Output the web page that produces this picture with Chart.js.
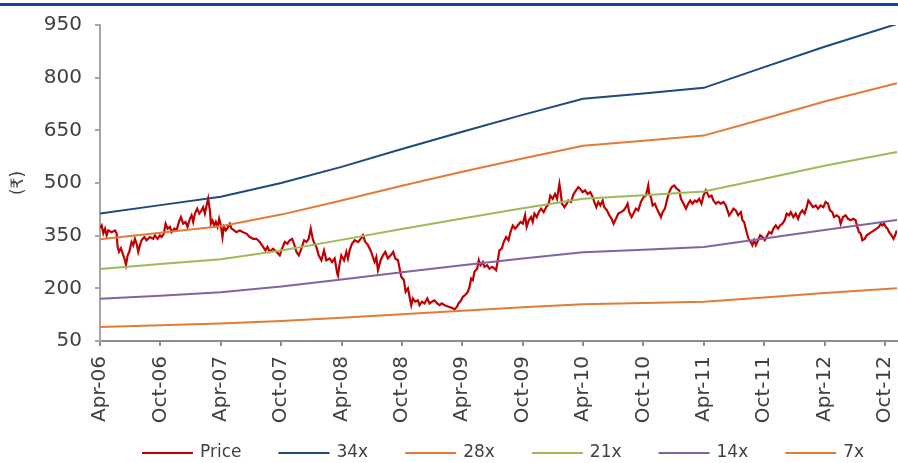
<!DOCTYPE html>
<html>
<head>
<meta charset="utf-8">
<script src="https://cdn.jsdelivr.net/npm/chart.js@4.4.1/dist/chart.umd.min.js"></script>
<style>
  body { margin: 0; background: #fff; }
  #wrap { position: relative; width: 898px; height: 463px; }
  #topRule { position: absolute; left: 0; top: 3px; width: 898px; height: 3px; background: #0a47a0; }
  canvas { position: absolute; left: 0; top: 0; }
</style>
</head>
<body>
<div id="wrap">
  <canvas id="peBandChart" width="898" height="463"></canvas>
  <div id="topRule"></div>
</div>
<script>
// x values are months counted from Apr-06
const tickLabels = ['Apr-06', 'Oct-06', 'Apr-07', 'Oct-07', 'Apr-08', 'Oct-08', 'Apr-09',
  'Oct-09', 'Apr-10', 'Oct-10', 'Apr-11', 'Oct-11', 'Apr-12', 'Oct-12'];

const priceMonths = [
  0.00, 0.17, 0.33, 0.50, 0.66, 0.83, 1.16, 1.49, 1.65, 1.75, 1.89, 2.08, 2.32, 2.48, 2.58, 2.75, 2.91,
  3.14, 3.31, 3.47, 3.64, 3.80, 3.97, 4.13, 4.40, 4.63, 4.96, 5.29, 5.46, 5.72, 5.95, 6.12, 6.35, 6.52,
  6.72, 6.95, 7.11, 7.38, 7.61, 7.84, 8.04, 8.27, 8.50, 8.70, 8.93, 9.10, 9.26, 9.43, 9.66, 9.86, 10.09,
  10.25, 10.42, 10.59, 10.75, 10.92, 11.02, 11.18, 11.35, 11.51, 11.68, 11.84, 12.01, 12.17, 12.31,
  12.50, 12.74, 12.90, 13.07, 13.33, 13.56, 13.89, 14.22, 14.55, 14.89, 15.22, 15.55, 15.88, 16.21,
  16.44, 16.64, 16.87, 17.20, 17.53, 17.86, 18.09, 18.36, 18.62, 18.86, 19.09, 19.28, 19.52, 19.75,
  20.01, 20.28, 20.51, 20.74, 20.94, 21.17, 21.50, 21.73, 22.00, 22.26, 22.49, 22.82, 23.06, 23.32,
  23.58, 23.65, 23.82, 23.98, 24.25, 24.48, 24.64, 24.81, 25.04, 25.31, 25.64, 25.90, 26.13, 26.36,
  26.63, 26.89, 27.12, 27.29, 27.46, 27.62, 27.89, 28.12, 28.35, 28.61, 28.88, 29.14, 29.34, 29.61,
  29.80, 29.94, 30.20, 30.37, 30.60, 30.76, 30.93, 31.09, 31.33, 31.59, 31.76, 31.99, 32.25, 32.52,
  32.75, 32.98, 33.24, 33.51, 33.74, 33.97, 34.24, 34.50, 34.73, 35.06, 35.23, 35.46, 35.63, 35.89,
  36.06, 36.29, 36.55, 36.72, 36.88, 37.05, 37.21, 37.48, 37.64, 37.81, 38.04, 38.21, 38.47, 38.70,
  38.97, 39.20, 39.36, 39.53, 39.69, 39.93, 40.12, 40.36, 40.59, 40.79, 41.02, 41.25, 41.51, 41.78,
  42.01, 42.24, 42.40, 42.60, 42.84, 43.00, 43.17, 43.40, 43.60, 43.83, 44.09, 44.33, 44.59, 44.75,
  44.99, 45.22, 45.42, 45.65, 45.75, 45.91, 46.15, 46.38, 46.54, 46.81, 47.07, 47.30, 47.53, 47.73,
  47.96, 48.20, 48.46, 48.72, 48.96, 49.12, 49.32, 49.52, 49.72, 49.95, 50.11, 50.38, 50.61, 50.84,
  51.04, 51.27, 51.50, 51.77, 52.03, 52.26, 52.43, 52.59, 52.82, 53.02, 53.25, 53.49, 53.75, 54.02,
  54.25, 54.48, 54.58, 54.75, 54.91, 55.14, 55.34, 55.57, 55.74, 55.91, 56.14, 56.33, 56.56, 56.80,
  57.06, 57.33, 57.56, 57.73, 57.99, 58.23, 58.45, 58.65, 58.88, 59.11, 59.31, 59.54, 59.77, 59.97,
  60.20, 60.37, 60.53, 60.77, 60.96, 61.20, 61.43, 61.69, 61.96, 62.19, 62.35, 62.52, 62.75, 62.95,
  63.18, 63.41, 63.68, 63.84, 64.01, 64.17, 64.34, 64.50, 64.67, 64.83, 65.00, 65.17, 65.40, 65.60,
  65.83, 66.06, 66.32, 66.49, 66.72, 66.92, 67.15, 67.38, 67.58, 67.81, 68.04, 68.24, 68.47, 68.64,
  68.90, 69.13, 69.37, 69.56, 69.79, 70.02, 70.22, 70.39, 70.62, 70.85, 71.12, 71.35, 71.61, 71.88,
  72.11, 72.34, 72.54, 72.77, 72.94, 73.20, 73.44, 73.60, 73.83, 74.10, 74.33, 74.59, 74.86, 75.09,
  75.25, 75.42, 75.59, 75.75, 75.99, 76.19, 76.42, 76.65, 76.92, 77.18, 77.41, 77.58, 77.75, 77.91,
  78.08, 78.25, 78.42, 78.65, 78.85, 79.01, 79.18
];

const priceValues = [
  372, 379, 357, 370, 351, 365, 360, 365, 357, 318, 304, 314, 294, 280, 266, 294, 304,
  332, 323, 341, 327, 304, 323, 337, 346, 337, 346, 341, 351, 341, 351, 346, 356, 384,
  370, 375, 360, 370, 365, 389, 403, 384, 389, 375, 398, 408, 389, 413, 427, 413, 422,
  431, 413, 436, 456, 422, 384, 393, 379, 389, 375, 398, 379, 346, 375,
  365, 375, 384, 370, 365, 360, 365, 360, 356, 346, 341, 341, 332, 318,
  308, 318, 304, 313, 304, 294, 313, 332, 327, 337, 341, 327, 304, 294,
  313, 337, 332, 341, 370, 337, 318, 294, 280, 308, 280, 285, 275, 285,
  242, 237, 271, 294, 280, 304, 285, 308, 327, 337, 332, 341, 351, 332,
  323, 308, 289, 275, 289, 252, 280, 294, 304, 285, 294, 304, 285, 280,
  252, 233, 223, 190, 200, 176, 152, 171, 162, 166, 152, 162, 157, 171,
  157, 162, 166, 157, 152, 157, 152, 149, 147, 143, 140, 147, 157, 166,
  176, 181, 190, 204, 228, 223, 247, 256, 280, 266, 275, 261, 266, 256,
  261, 256, 252, 280, 308, 313, 332, 346, 337, 360, 379, 370, 379, 389,
  384, 408, 375, 393, 403, 389, 413, 403, 417, 427, 417, 431, 441, 464,
  455, 469, 455, 498, 479, 441, 431, 441, 450, 446, 469, 479, 488, 483,
  474, 479, 469, 474, 460, 446, 431, 446, 436, 450, 431, 422, 408, 398,
  384, 398, 413, 417, 422, 431, 441, 417, 403, 413, 427, 422, 446, 460,
  464, 493, 469, 460, 436, 441, 427, 413, 403, 417, 427, 450, 474, 488,
  493, 483, 479, 455, 441, 427, 441, 450, 441, 450, 446, 455, 441, 464,
  479, 469, 460, 464, 450, 441, 446, 441, 446, 436, 422, 408, 417, 427,
  422, 408, 417, 394, 389, 370, 351, 337, 332, 323, 337, 323, 337, 351,
  346, 337, 351, 360, 356, 370, 379, 370, 379, 384, 394, 413, 408, 417,
  403, 413, 398, 413, 422, 413, 431, 450, 441, 431, 436, 427, 436, 431,
  446, 441, 422, 417, 403, 408, 403, 384, 403, 408, 398, 394, 398, 394,
  375, 360, 356, 337, 341, 351, 356, 360, 365, 370, 375, 384, 379, 384,
  375, 370, 360, 351, 341, 351, 365
];

// PE band values at each half-year point, last one is the end of the series
const bandMonths = [0, 6, 12, 18, 24, 30, 36, 42, 48, 54, 60, 66, 72, 79.2];
const band34x = [413, 437, 461, 500, 546, 597, 646, 694, 740, 755, 771, 830, 888, 953];
const band28x = [340, 358, 377, 410, 450, 492, 532, 570, 606, 620, 635, 683, 732, 784];
const band21x = [255, 269, 283, 308, 338, 369, 399, 428, 455, 465, 476, 512, 549, 588];
const band14x = [170, 179, 189, 205, 225, 246, 266, 285, 303, 310, 318, 342, 366, 395];
const band7x = [90, 95, 100, 107, 116, 126, 136, 146, 155, 158, 162, 174, 187, 200];

const textColor = '#404040';
const fontFamily = '"DejaVu Sans", "Noto Sans", sans-serif';

function pairs(xs, ys) {
  return ys.map((y, i) => ({ x: xs[i], y: y }));
}

function bandSet(label, values, color, width) {
  return {
    label: label,
    data: pairs(bandMonths, values),
    borderColor: color,
    borderWidth: width,
    pointRadius: 0,
    order: 0
  };
}

// legend drawn as one row under the axis labels
const legendRow = {
  id: 'legendRow',
  afterDraw(chart) {
    const ctx = chart.ctx;
    const y = 453;
    let x = chart.chartArea.left + 42;
    ctx.save();
    ctx.font = '17px ' + fontFamily;
    ctx.textBaseline = 'middle';
    chart.data.datasets.forEach((ds) => {
      ctx.strokeStyle = ds.borderColor;
      ctx.lineWidth = 2;
      ctx.beginPath();
      ctx.moveTo(x, y);
      ctx.lineTo(x + 51, y);
      ctx.stroke();
      ctx.fillStyle = textColor;
      ctx.fillText(ds.label, x + 58, y);
      x += 58 + ctx.measureText(ds.label).width + 37;
    });
    ctx.restore();
  }
};

const canvas = document.getElementById('peBandChart');
new Chart(canvas, {
  type: 'line',
  data: {
    datasets: [
      {
        label: 'Price',
        data: pairs(priceMonths, priceValues),
        borderColor: '#c00000',
        borderWidth: 2.2,
        pointRadius: 0,
        order: 1
      },
      bandSet('34x', band34x, '#1f497d', 2),
      bandSet('28x', band28x, '#e37b36', 2),
      bandSet('21x', band21x, '#9bbb59', 2),
      bandSet('14x', band14x, '#8064a2', 2),
      bandSet('7x', band7x, '#e37b36', 2)
    ]
  },
  options: {
    responsive: false,
    animation: false,
    layout: { padding: { top: 24, right: 1, bottom: 30, left: 0 } },
    plugins: {
      legend: { display: false },
      tooltip: { enabled: false }
    },
    scales: {
      x: {
        type: 'linear',
        min: 0,
        max: 79.2,
        border: { color: '#8c8c8c', width: 2 },
        grid: { drawOnChartArea: false, drawTicks: true, tickLength: 5, color: '#8c8c8c', lineWidth: 2 },
        ticks: {
          stepSize: 6,
          includeBounds: false,
          autoSkip: false,
          minRotation: 90,
          maxRotation: 90,
          padding: 10,
          color: textColor,
          font: { family: fontFamily, size: 20 },
          callback: (v) => tickLabels[v / 6]
        },
        afterFit: (scale) => {
          scale.height = 92;
          scale.paddingLeft = 0;
          scale.paddingRight = 0;
        }
      },
      y: {
        min: 50,
        max: 950,
        border: { color: '#a6a6a6', width: 2 },
        grid: { drawOnChartArea: false, drawTicks: true, tickLength: 5, color: '#a6a6a6', lineWidth: 2 },
        ticks: {
          stepSize: 150,
          padding: 13,
          color: textColor,
          font: { family: fontFamily, size: 20 }
        },
        title: {
          display: true,
          text: '(₹)',
          color: textColor,
          font: { family: fontFamily, size: 17 },
          padding: { top: 8, bottom: 0 }
        },
        afterFit: (scale) => {
          scale.width = 100;
        }
      }
    }
  },
  plugins: [legendRow]
});
</script>
</body>
</html>
